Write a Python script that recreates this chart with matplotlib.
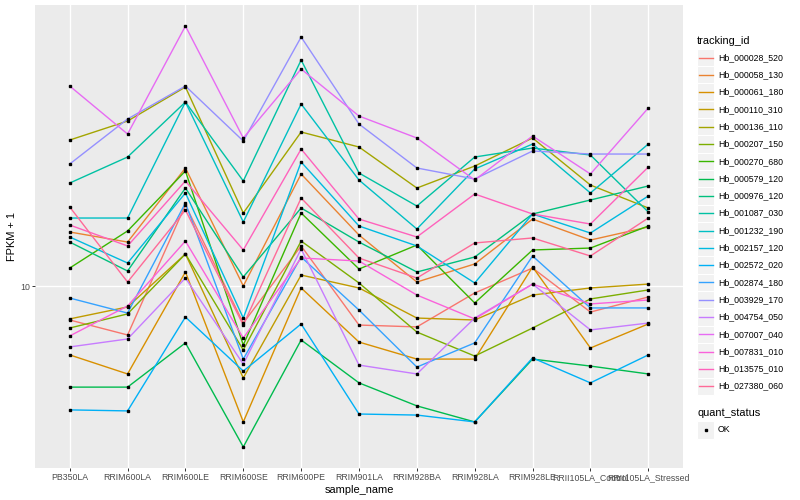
import numpy as np
import matplotlib
matplotlib.use('Agg')
import matplotlib.pyplot as plt
from matplotlib.ticker import NullLocator, FixedLocator, FixedFormatter
from matplotlib.patches import Rectangle

plt.rcParams['font.family'] = ['Liberation Sans', 'DejaVu Sans']

# ---------------- data ----------------
samples = ['PB350LA', 'RRIM600LA', 'RRIM600LE', 'RRIM600SE', 'RRIM600PE',
           'RRIM901LA', 'RRIM928BA', 'RRIM928LA', 'RRIM928LE',
           'RRII105LA_Control', 'RRII105LA_Stressed']

tracking_ids = ['Hb_000028_520', 'Hb_000058_130', 'Hb_000061_180', 'Hb_000110_310',
                'Hb_000136_110', 'Hb_000207_150', 'Hb_000270_680', 'Hb_000579_120',
                'Hb_000976_120', 'Hb_001087_030', 'Hb_001232_190', 'Hb_002157_120',
                'Hb_002572_020', 'Hb_002874_180', 'Hb_003929_170', 'Hb_004754_050',
                'Hb_007007_040', 'Hb_007831_010', 'Hb_013575_010', 'Hb_027380_060']

# FPKM + 1 per sample (order of `samples`)
hb_000028_520 = [7.83, 7.03, 17.91, 7.66, 13.34, 7.55, 7.45, 9.51, 11.38, 8.29, 9.24]
hb_000058_130 = [14.75, 13.72, 23.38, 10.00, 22.39, 14.43, 10.29, 11.72, 16.19, 13.92, 15.29]
hb_000061_180 = [6.09, 5.31, 11.06, 3.76, 9.86, 6.68, 5.91, 5.91, 11.47, 6.40, 7.61]
hb_000110_310 = [7.89, 8.60, 12.59, 5.16, 10.82, 9.86, 7.94, 7.83, 9.37, 9.86, 10.14]
hb_000136_110 = [28.59, 32.78, 41.87, 16.91, 30.29, 27.19, 20.24, 23.71, 29.01, 20.68, 17.53]
hb_000207_150 = [7.39, 8.18, 12.59, 6.31, 13.82, 10.22, 7.18, 6.04, 7.39, 9.11, 9.72]
hb_000270_680 = [11.38, 14.86, 22.88, 6.54, 16.91, 11.30, 13.43, 8.85, 12.96, 13.14, 15.40]
hb_000579_120 = [4.83, 4.83, 6.64, 3.14, 6.78, 4.98, 4.22, 3.76, 5.91, 5.62, 5.31]
hb_000976_120 = [13.72, 11.14, 20.24, 10.67, 17.53, 13.72, 11.06, 12.32, 16.79, 18.57, 20.54]
hb_001087_030 = [20.98, 25.30, 37.58, 21.29, 50.85, 22.55, 17.78, 25.30, 26.99, 25.67, 17.03]
hb_001232_190 = [16.31, 16.31, 37.58, 15.85, 37.05, 21.44, 15.07, 23.21, 27.78, 19.53, 27.78]
hb_002157_120 = [14.23, 11.80, 19.53, 7.94, 24.41, 15.40, 13.34, 10.22, 16.79, 14.64, 19.11]
hb_002572_020 = [4.10, 4.07, 8.00, 5.42, 7.61, 3.98, 3.95, 3.76, 5.96, 4.98, 6.09]
hb_002874_180 = [9.17, 8.23, 18.17, 5.91, 12.32, 8.41, 5.58, 6.64, 12.41, 8.54, 8.54]
hb_003929_170 = [24.06, 33.26, 42.17, 28.39, 60.00, 32.08, 23.38, 21.60, 26.42, 25.85, 25.85]
hb_004754_050 = [6.45, 6.83, 10.59, 5.70, 13.05, 5.66, 5.31, 7.94, 10.14, 7.29, 7.66]
hb_007007_040 = [42.17, 29.85, 64.94, 29.01, 47.66, 33.98, 29.01, 21.44, 29.43, 22.39, 36.00]
hb_007831_010 = [6.98, 8.66, 13.82, 6.88, 12.23, 11.97, 9.37, 7.89, 10.14, 8.79, 9.04]
hb_013575_010 = [15.51, 13.34, 21.29, 12.96, 26.80, 16.19, 14.23, 19.39, 16.79, 15.62, 23.54]
hb_027380_060 = [17.66, 10.29, 17.28, 7.55, 18.84, 12.23, 10.59, 13.63, 14.13, 12.41, 16.31]

series = [hb_000028_520, hb_000058_130, hb_000061_180, hb_000110_310, hb_000136_110,
          hb_000207_150, hb_000270_680, hb_000579_120, hb_000976_120, hb_001087_030,
          hb_001232_190, hb_002157_120, hb_002572_020, hb_002874_180, hb_003929_170,
          hb_004754_050, hb_007007_040, hb_007831_010, hb_013575_010, hb_027380_060]

quant_status = ['OK']
yticks = [10]


# ---------------- ggplot2 hue palette ----------------
def hue_pal(n, c=100.0, l=65.0):
    hues = np.linspace(15, 375, n + 1)[:-1] % 360
    Xn, Yn, Zn = 95.047, 100.0, 108.883
    den = Xn + 15 * Yn + 3 * Zn
    un, vn = 4 * Xn / den, 9 * Yn / den
    out = []
    for h in hues:
        u = c * np.cos(np.radians(h))
        v = c * np.sin(np.radians(h))
        Y = Yn * ((l + 16) / 116) ** 3
        up = u / (13 * l) + un
        vp = v / (13 * l) + vn
        X = 9 * Y * up / (4 * vp)
        Z = -X / 3 - 5 * Y + 3 * Y / vp
        X, Y, Z = X / 100, Y / 100, Z / 100
        rgb = [3.240479 * X - 1.537150 * Y - 0.498535 * Z,
               -0.969256 * X + 1.875992 * Y + 0.041556 * Z,
               0.055648 * X - 0.204043 * Y + 1.057311 * Z]
        res = []
        for ch in rgb:
            ch = 12.92 * ch if ch <= 0.0031308 else 1.055 * ch ** (1 / 2.4) - 0.055
            res.append(min(max(ch, 0), 1))
        out.append(tuple(res))
    return out


colors = hue_pal(len(tracking_ids))

# ---------------- figure ----------------
W, H = 800, 500
fig = plt.figure(figsize=(W / 100, H / 100), dpi=100)
pl, pr, pt, pb = 35, 683, 5, 468
ax = fig.add_axes([pl / W, 1 - pb / H, (pr - pl) / W, (pb - pt) / H])
ax.set_facecolor('#EBEBEB')
for s in ax.spines.values():
    s.set_visible(False)

x = np.arange(len(samples))
for vals, col in zip(series, colors):
    ax.plot(x, vals, color=col, lw=1.0, solid_joinstyle='round', zorder=3)
for vals in series:
    ax.plot(x, vals, ls='none', marker='s', ms=2.0, color='black', zorder=4)

ax.set_yscale('log')
allv = np.log10(np.concatenate([np.asarray(v) for v in series]))
lo, hi = allv.min(), allv.max()
pad = 0.05 * (hi - lo)
ax.set_ylim(10 ** (lo - pad), 10 ** (hi + pad))
ax.set_xlim(-0.6, len(samples) - 1 + 0.6)

ax.yaxis.set_major_locator(FixedLocator(yticks))
ax.yaxis.set_major_formatter(FixedFormatter([str(t) for t in yticks]))
ax.yaxis.set_minor_locator(NullLocator())
ax.set_xticks(x)
ax.set_xticklabels(samples)

ax.grid(True, which='major', color='white', lw=1.0, zorder=0)
ax.set_axisbelow(True)
ax.tick_params(axis='both', which='major', length=2.0, width=0.7, color='#333333',
               labelcolor='#4D4D4D', labelsize=6.3, pad=1.6)
ax.set_xlabel('sample_name', fontsize=7.9, labelpad=2.0, color='black')
ax.set_ylabel('FPKM + 1', fontsize=7.9, labelpad=2.0, color='black')

# ---------------- legends (drawn in pixel space) ----------------
lg = fig.add_axes([0, 0, 1, 1])
lg.set_xlim(0, W)
lg.set_ylim(H, 0)
lg.axis('off')
lg.patch.set_alpha(0)

kx, kw = 697, 17.28
lg.text(kx, 40.5, 'tracking_id', fontsize=7.9, va='center', ha='left')
y0, dy = 57.5, 17.3
for i, (tid, col) in enumerate(zip(tracking_ids, colors)):
    cy = y0 + i * dy
    lg.add_patch(Rectangle((kx, cy - dy / 2), kw, dy, facecolor='#F2F2F2',
                           edgecolor='white', lw=0.8))
    lg.plot([kx + 1.5, kx + kw - 1.5], [cy, cy], color=col, lw=1.0)
    lg.text(kx + kw + 3.5, cy, tid, fontsize=6.3, va='center', ha='left')

lg.text(kx, 413, 'quant_status', fontsize=7.9, va='center', ha='left')
for j, qs in enumerate(quant_status):
    cy = 430 + j * dy
    lg.add_patch(Rectangle((kx, cy - dy / 2), kw, dy, facecolor='#F2F2F2',
                           edgecolor='white', lw=0.8))
    lg.plot([kx + kw / 2], [cy], ls='none', marker='s', ms=2.0, color='black')
    lg.text(kx + kw + 3.5, cy, qs, fontsize=6.3, va='center', ha='left')

fig.savefig('out.png', dpi=100)
